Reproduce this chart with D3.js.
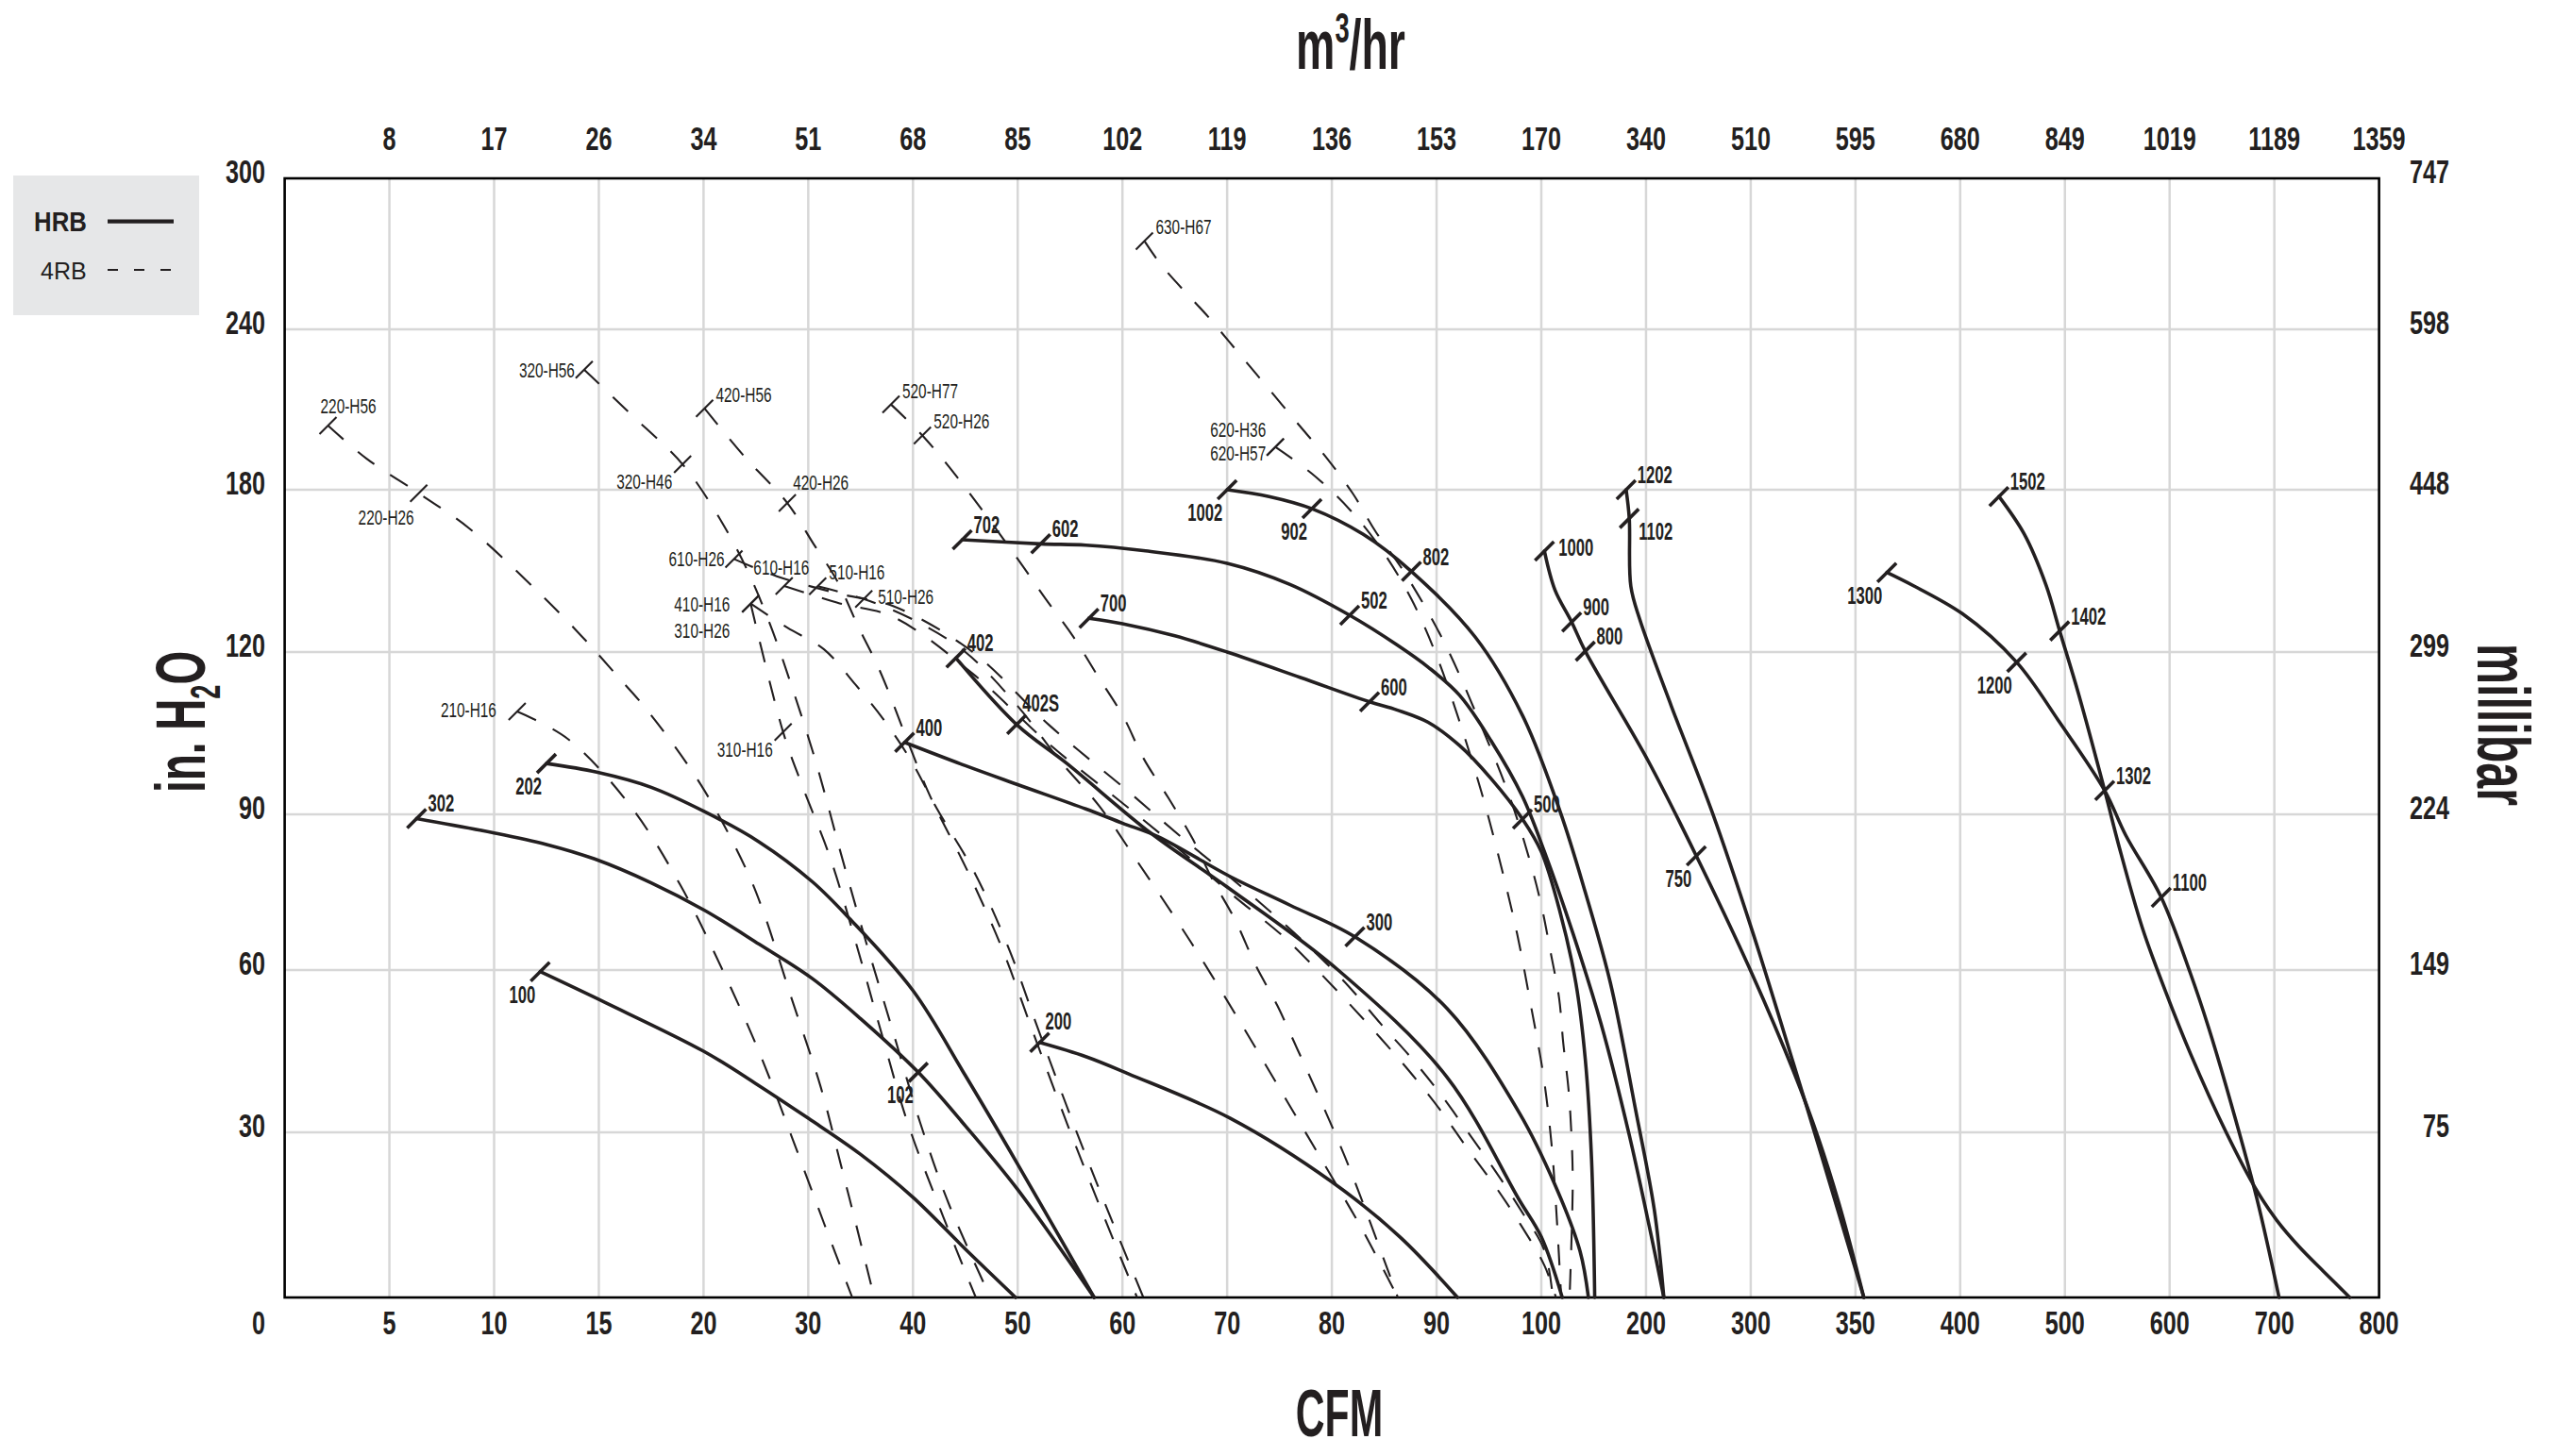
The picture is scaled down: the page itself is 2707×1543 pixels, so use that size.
<!DOCTYPE html>
<html><head><meta charset="utf-8">
<script src="https://cdn.jsdelivr.net/npm/d3@7"></script>
<style>html,body{margin:0;padding:0;background:#fff}svg{display:block}</style>
</head><body>
<script>
// ---------- axis values ----------
const cfmTicks=[0,5,10,15,20,30,40,50,60,70,80,90,100,200,300,350,400,500,600,700,800];
const m3hrLabels=["",8,17,26,34,51,68,85,102,119,136,153,170,340,510,595,680,849,1019,1189,1359];
const inH2OTicks=[0,30,60,90,120,180,240,300];
const millibarLabels=["",75,149,224,299,448,598,747];

// ---------- HRB (solid) curves: [CFM, in. H2O] ----------
const hrb100=[[12.2,59.7],[15.3,54],[20,45],[25,39],[30,32.6],[35,26],[40,18.2],[45,8.8],[49.8,0]];
const hrb302=[[6.3,89.2],[9.9,86.5],[12.5,84.2],[14.8,81.4],[17.5,76.8],[20.1,71.5],[25.3,65],[30.4,58.4],[35,51],[40.5,41.1],[45,31.2],[50,19.6],[57.3,0]];
const hrb202=[[12.5,99.4],[14.9,97.8],[17.5,95],[20.1,90.5],[25.3,84.7],[30.4,77],[33.9,70],[40,56.2],[45,40.5],[50,24.2],[57.3,0]];
const hrb400=[[39.2,103.3],[45,99],[50,95.5],[56.5,91],[60,88.3],[63.4,85.7],[70.3,78],[76,72.5],[82.2,66.4],[91,52.9],[97.9,33.6],[113,20.5],[137,8.4],[145,0]];
const hrb402=[[44.1,118.9],[49.9,106.6],[54.7,99.4],[62.7,86.4],[70,76],[80.6,60],[91,40.2],[97.9,17.7],[100,11],[120,0]];
const hrb200=[[52.1,46.6],[56.5,44],[60.6,40.8],[70.3,32.6],[80,21],[86.5,11],[92,0]];
const hrb700=[[56.8,132.5],[60,130.5],[65,126],[70,120],[77,115.3],[83.6,110.8],[86.2,109.3],[89.2,107],[92.2,102.7],[95.2,96.6],[98.2,89.1],[100,82.8],[118,71.1],[133,57.6],[142,43.5],[148,25],[151,0]];
const hrb702=[[44.7,161.5],[52.2,160],[56.5,159.5],[62,157.5],[70,152.8],[76,145],[81.7,133.6],[86.2,122.7],[89.2,117.2],[92.2,112],[95.2,103.6],[98.2,93.3],[103,82.8],[130,67.2],[157,50.1],[184,29.5],[205,11.2],[217,0]];
const hrb1002=[[70,180],[74,177.5],[78.1,173],[83,163.5],[87.6,149.8],[93.7,125.5],[98.2,108.3],[118,90.5],[142,75],[166,57.6],[190,34.2],[208,15.8],[217,0]];
const hrb1000=[[103,157.3],[113,143],[129,131.1],[142,120.3],[202,99.9],[248,82],[300.5,59.4],[320.5,41.2],[332.5,28.7],[343,15.9],[354,0]];
const hrb1202=[[181,180],[184,169.4],[185.5,144.3],[194,132.1],[224,110.1],[263,90.5],[301,67.2],[320.5,42.6],[334,25.5],[354,0]];
const hrb1300=[[365,149.4],[402,134.2],[454,118.1],[495,107],[538,94.4],[558,86],[592,74],[620,59.3],[637,49.5],[654,38.5],[683,18.2],[704.5,0]];
const hrb1502=[[437,177.5],[461,163.7],[482,144.7],[495,127.8],[513,112.3],[538,94.4],[552,83.6],[574,68.1],[596,56.1],[620,44.5],[654,30],[683,19.5],[702.4,14],[723.3,9.3],[747.7,4.6],[772,0]];
const hrbSeries=[hrb100,hrb302,hrb202,hrb400,hrb402,hrb200,hrb700,hrb702,hrb1002,hrb1000,hrb1202,hrb1300,hrb1502];

// marks on solid curves: [label, CFM, in. H2O, side]
const hrbMarks=[["100",12.2,59.7,"sw"],["302",6.3,89.2,"ne"],["102",40.5,41.1,"sw"],["202",12.5,99.4,"sw"],
["400",39.2,103.3,"ne"],["300",82.2,66.4,"ne"],["402",44.1,118.9,"ne"],["402S",49.9,106.6,"ne2"],
["200",52.1,46.6,"ne2"],["700",56.8,132.5,"ne"],["600",83.6,110.8,"ne"],["500",98.2,89.1,"ne"],
["702",44.7,161.5,"ne"],["602",52.2,160,"ne"],["502",81.7,133.6,"ne"],
["1002",70,180,"sw"],["902",78.1,173,"sw"],["802",87.6,149.8,"ne"],
["1000",103,157.3,"e"],["900",129,131.1,"ne"],["800",142,120.3,"ne"],["750",248,82,"sw"],
["1202",181,180,"ne"],["1102",184,169.4,"se"],
["1300",365,149.4,"sw"],["1200",454,118.1,"sw"],["1100",592,74,"ne"],
["1502",437,177.5,"ne"],["1402",495,127.8,"ne"],["1302",538,94.4,"ne"]];

// ---------- 4RB (dashed) curves ----------
const rb220=[[2.07,204],[3.9,191.7],[6.4,178.7],[8.8,165.8],[12,143],[14.2,125.7],[15.9,115.5],[17.3,109.3],[19.9,95.3],[24,79.7],[25.7,71.3],[28.4,54.8],[31.2,38.3],[33.1,24.2],[34.6,13],[36.3,0]];
const rb210=[[11.1,109],[13.5,104],[16.5,91.6],[18.9,76.3],[21.7,60.5],[25.3,44.9],[28.4,29.3],[31.5,13.5],[34.2,0]];
const rb320=[[14.3,224.9],[16.7,207],[19,189.5],[21.3,170.9],[24,151.7],[26.3,130.8],[28.5,113.2],[30.8,99.2],[33,83.3],[35.3,66.9],[38,49.2],[40.7,31.7],[43.4,17.1],[47.4,0]];
const rb310=[[24.5,137.9],[27.6,105.2],[29.4,95.4],[32.1,81.6],[34.6,64.9],[37.1,47.6],[39.5,31.7],[42.9,14.6],[46,0]];
const rb420=[[20.1,210.4],[24,192],[28,175.1],[30.5,160],[32.8,146],[34.7,130],[36.8,116.7],[39.3,104.5],[41.6,93.5],[45.3,78.7],[48.5,64.2],[51.5,48.3],[54.7,31.7],[58,15.8],[61.4,0]];
const rb410=[[24.5,137.9],[28,129],[31.5,121],[34.5,114],[37.2,107.5],[39.8,100],[42.3,91],[45.9,78.7],[49.1,64.4],[52.1,48.3],[55.3,31.7],[58.6,15.8],[62,0]];
const rb520=[[37.9,211.9],[40.9,200.3],[44.7,182.3],[50,154.4],[52.6,140],[55.3,125.7],[57.6,115.7],[60.1,108],[62,100.4],[64.4,93],[66.7,85.3],[68.5,77.8],[70.8,69.5],[72.7,61],[74.8,53.4],[76.7,45.4],[78.6,37.3],[80.3,29.8],[82,22],[86.3,0]];
const rb510=[[30.9,144.3],[35.3,139.6],[40,132],[45,120],[50,110],[54,100],[57.8,91.5],[61.5,80.7],[66.5,65.5],[71.3,50.2],[75.8,35.5],[80.3,20.9],[83,12],[86.3,0]];
const rb610H26=[[22.9,154.4],[27,148],[33,141.5],[38.1,137],[45.7,120],[53,106.5],[60.7,94],[65.4,86],[70.5,77.5],[75.4,69],[78.6,63],[81.6,57],[84.7,50],[87.7,43.5],[90.4,37],[93,30],[95.6,23],[98,16],[103,8.5],[111,0]];
const rb610H16=[[27.7,144.4],[33,138],[38.1,133],[45.7,116],[53,103],[60.7,91],[65.4,83.3],[70.5,74.5],[75.4,66.4],[78.6,60],[81.6,53.9],[84.7,47.3],[87.7,40.6],[90.4,34],[93,26.9],[95.6,20.2],[98,13.3],[103,5.8],[114,0]];
const rb620=[[74.6,196],[78.1,186],[81.7,172.7],[84.9,157],[87.6,139.5],[90,119.3],[92.2,107.1],[94.3,94],[96.1,80.5],[97.7,66.9],[99,53.5],[102,40.5],[110,27.4],[115,13.7],[119,0]];
const rb630=[[62.1,275.1],[63.8,265.1],[68.2,244.9],[71,231.6],[73.7,219],[76.6,205.4],[79.4,192.4],[82,178.6],[84.2,164.4],[86.8,150.2],[90.7,123.8],[94.3,106.2],[97,93.1],[98.8,81.8],[100,72.5],[109,63.3],[117,54.8],[121,46.4],[126,37.9],[129,28.6],[130,20.4],[127,0]];
const rbSeries=[rb220,rb210,rb320,rb310,rb420,rb410,rb520,rb510,rb610H26,rb610H16,rb620,rb630];

const rbMarks=[["220-H56",2.07,204,"n"],["220-H26",6.4,178.7,"sw"],
["320-H56",14.3,224.9,"w"],["320-H46",19,189.5,"sw3"],
["420-H56",20.1,210.4,"ne"],["420-H26",28,175.1,"ne2"],
["520-H77",37.9,211.9,"ne"],["520-H26",40.9,200.3,"ne"],
["630-H67",62.1,275.1,"ne"],["620-H36",74.6,196,"nw"],["620-H57",74.6,196,"w2"],
["610-H26",22.9,154.4,"w"],["610-H16",27.7,144.4,"nc"],
["510-H16",30.9,144.3,"ne"],["510-H26",35.3,139.6,"e"],
["410-H16",24.5,137.9,"wt"],["310-H26",24.5,137.9,"wb"],
["310-H16",27.6,105.2,"sw3"],["210-H16",11.1,109,"wfar"]];

const legendItems=[["HRB","solid"],["4RB","dashed"]];

// ---------- drawing ----------
const W=2707,H=1543;
const FONT="'Liberation Sans', Arial, Helvetica, sans-serif";
const INK="#231f20";
const svg=d3.select("body").append("svg").attr("width",W).attr("height",H).attr("viewBox",`0 0 ${W} ${H}`);
svg.append("rect").attr("width",W).attr("height",H).attr("fill","#fff");

const x=d3.scaleLinear().domain(cfmTicks).range(cfmTicks.map((d,i)=>301.6+i*110.95));
const y=d3.scaleLinear().domain(inH2OTicks).range([1375,1200,1028,863,691,519,349,189]);
const X0=x(0),X1=x(800),Y0=y(0),Y1=y(300);

function txt(g,str,px,py,o){
  const tr=`translate(${px},${py})`+(o.rot?` rotate(${o.rot})`:"")+` scale(${o.sx},1)`;
  return g.append("text").attr("transform",tr).attr("text-anchor",o.anchor||"start")
    .attr("font-family",FONT).attr("font-size",o.size).attr("font-weight",o.weight||"bold")
    .attr("fill",INK).text(str);
}

// grid
const grid=svg.append("g").attr("stroke","#d7d7d7").attr("stroke-width",2.5);
grid.append("g").selectAll("line").data(cfmTicks.slice(1,-1)).join("line")
  .attr("x1",d=>x(d)).attr("x2",d=>x(d)).attr("y1",Y1).attr("y2",Y0);
grid.append("g").selectAll("line").data(inH2OTicks.slice(1,-1)).join("line")
  .attr("x1",X0).attr("x2",X1).attr("y1",d=>y(d)).attr("y2",d=>y(d));
svg.append("rect").attr("x",X0).attr("y",Y1).attr("width",X1-X0).attr("height",Y0-Y1)
  .attr("fill","none").attr("stroke","#000").attr("stroke-width",2.6);

// axis tick labels
const ax=svg.append("g");
const tk={size:36,sx:0.7};
cfmTicks.forEach((d,i)=>{
  if(i===0) txt(ax,String(d),281,1414,{...tk,anchor:"end"});
  else {
    txt(ax,String(d),x(d),1414,{...tk,anchor:"middle"});
    txt(ax,String(m3hrLabels[i]),x(d),159,{...tk,anchor:"middle"});
  }
});
inH2OTicks.forEach((d,i)=>{
  if(i===0) return;
  txt(ax,String(d),281,y(d)+5,{...tk,anchor:"end"});
  txt(ax,String(millibarLabels[i]),2595,y(d)+5,{...tk,anchor:"end"});
});

// titles
const t1=svg.append("text").attr("transform","translate(1431,73) scale(0.62,1)").attr("text-anchor","middle")
  .attr("font-family",FONT).attr("font-weight","bold").attr("font-size",75).attr("fill",INK);
t1.append("tspan").text("m");
t1.append("tspan").attr("font-size",44).attr("dy",-28).text("3");
t1.append("tspan").attr("font-size",75).attr("dy",28).text("/hr");
txt(svg,"CFM",1419,1522,{size:70,sx:0.61,anchor:"middle"});
const t2=svg.append("text").attr("transform","translate(217,765) rotate(-90) scale(0.62,1)").attr("text-anchor","middle")
  .attr("font-family",FONT).attr("font-weight","bold").attr("font-size",74).attr("fill",INK);
t2.append("tspan").text("in. H");
t2.append("tspan").attr("font-size",44).attr("dy",16).text("2");
t2.append("tspan").attr("font-size",74).attr("dy",-16).text("O");
txt(svg,"millibar",2625,768,{size:78,sx:0.62,anchor:"middle",rot:90});

// curves
const line=d3.line().x(d=>x(d[0])).y(d=>y(d[1])).curve(d3.curveCatmullRom.alpha(0.5));
svg.append("g").selectAll("path").data(rbSeries).join("path")
  .attr("d",line).attr("fill","none").attr("stroke",INK).attr("stroke-width",2.1)
  .attr("stroke-dasharray","22,20");
svg.append("g").selectAll("path").data(hrbSeries).join("path")
  .attr("d",line).attr("fill","none").attr("stroke",INK).attr("stroke-width",3.6)
  .attr("stroke-linecap","round");

// marks + labels
const place={ne:[12,-7,"start"],ne2:[6,-14,"start"],sw:[-5,33,"end"],sw3:[-11,26,"end"],
  e:[15,5,"start"],se:[10,23,"start"],w:[-10,8,"end"],wfar:[-22,6,"end"],n:[-8,-13,"start"],
  nc:[-3,-12,"middle"],nw:[-10,-11,"end"],w2:[-10,14,"end"],wt:[-22,8,"end"],wb:[-22,36,"end"]};
function marks(list,half,sw,lab){
  const g=svg.append("g");
  g.selectAll("line").data(list).join("line")
    .attr("x1",d=>x(d[1])-half).attr("y1",d=>y(d[2])+half)
    .attr("x2",d=>x(d[1])+half).attr("y2",d=>y(d[2])-half)
    .attr("stroke",INK).attr("stroke-width",sw);
  list.forEach(d=>{
    const p=place[d[3]];
    txt(g,d[0],x(d[1])+p[0],y(d[2])+p[1],{...lab,anchor:p[2]});
  });
}
marks(rbMarks,9,2.1,{size:22,sx:0.7,weight:"normal"});
marks(hrbMarks,10,3.6,{size:26,sx:0.64,weight:"bold"});

// legend
const lg=svg.append("g");
lg.append("rect").attr("x",14).attr("y",186).attr("width",197).attr("height",148).attr("fill","#e6e7e8");
legendItems.forEach((d,i)=>{
  const yy=i===0?234.6:286;
  if(i===0) txt(lg,d[0],36,245,{size:30,sx:0.86,weight:"bold"});
  else txt(lg,d[0],43,296,{size:25,sx:1,weight:"normal"});
  lg.append("line").attr("x1",114).attr("x2",184).attr("y1",yy).attr("y2",yy)
    .attr("stroke",INK).attr("stroke-width",d[1]==="solid"?4.3:2.1)
    .attr("stroke-dasharray",d[1]==="solid"?null:"11,17");
});
</script>
</body></html>
